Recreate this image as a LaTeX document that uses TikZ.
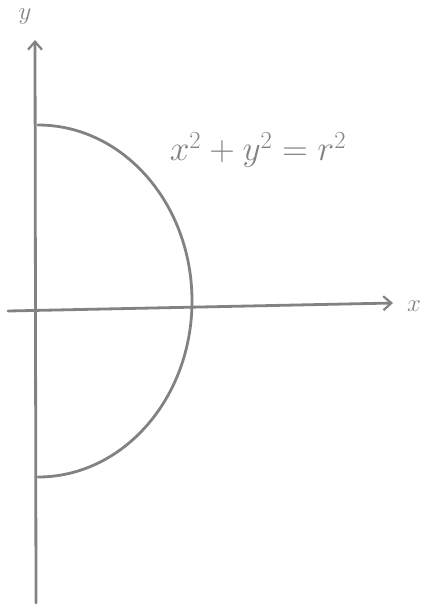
\documentclass[tikz,border=0pt]{standalone}
\usetikzlibrary{arrows.meta}
\definecolor{pencil}{RGB}{130,130,130}
\begin{document}
\begin{tikzpicture}[x=1pt,y=-1pt,
  pen/.style={draw=pencil,line width=2.8pt,line cap=round},
  axis/.style={pen,-{Straight Barb[length=8pt,width=14pt,line width=2.2pt]}},
  lbl/.style={text=pencil,inner sep=0pt,font=\fontsize{24}{28}\selectfont}]
\useasboundingbox (0,0) rectangle (434,613);
\coordinate (ybot) at (36,603);
\coordinate (ytop) at (35,40);
\coordinate (xl) at (8,311);
\coordinate (xr) at (393,303);
\coordinate (cbot) at (38,477);
\draw[axis] (ybot) -- (ytop);
\draw[axis] (xl) -- (xr);
\draw[pen] (cbot) arc[start angle=90,end angle=-90,x radius=154,y radius=176];
\node[lbl] (ylab) at (25,17) {$y$};
\node[lbl] (xlab) at (414,306) {$x$};
\node[lbl] (eq) at (258,150) {\scalebox{1.42}{$x^2+y^2=r^2$}};
\end{tikzpicture}
\end{document}
